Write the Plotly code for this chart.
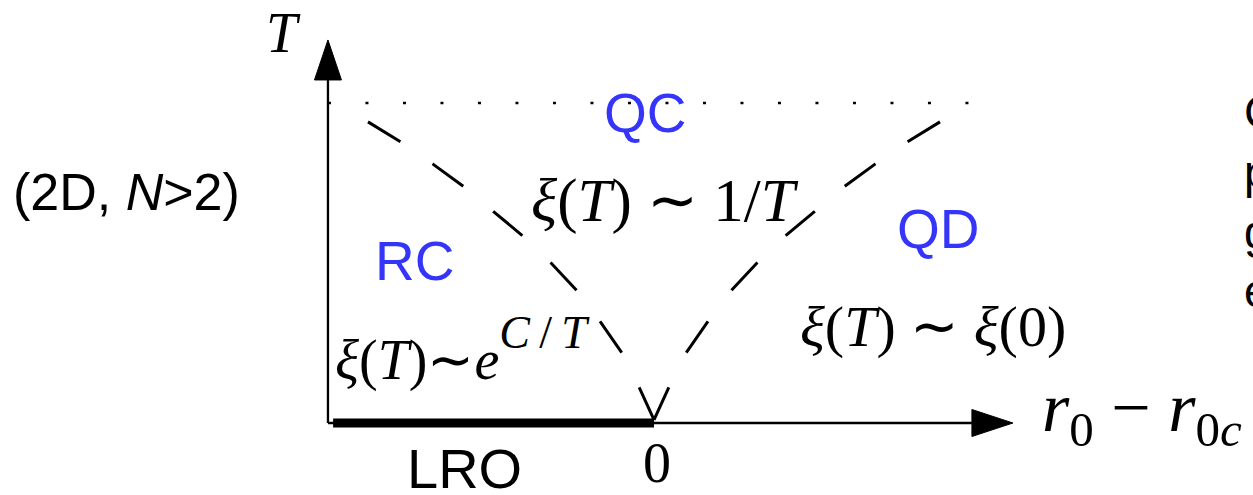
import plotly.graph_objects as go

# ---------------- data (units: r0 - r0c horizontally, T vertically) ----------------
# crossover line, right branch (left branch is its mirror image)
cross_r = [1.0, 0.885, 0.773, 0.664, 0.559, 0.458, 0.360, 0.269, 0.185, 0.112, 0.049, 0.0]
cross_T = [0.941, 0.878, 0.809, 0.738, 0.659, 0.584, 0.500, 0.413, 0.313, 0.219, 0.106, 0.01]

r_axis = [-1.14, 1.255]      # horizontal axis extent (tip of arrow at right)
T_axis = [0.0, 1.197]        # vertical axis extent (tip of arrow at top)
T_qc = 1.0                   # dotted upper line
r_qc_end = 1.122
lro_range = [-1.122, 0.0]    # long-range-order segment at T = 0

region_labels = ["QC", "RC", "QD"]
region_r = [-0.028, -0.836, 0.993]
region_T = [0.969, 0.506, 0.606]

BLUE = "#3535FA"
SERIF = "Liberation Serif, Times New Roman, serif"
SANS = "Liberation Sans, Arial, sans-serif"
XI = "<i>ξ</i>"
SIM = "∼"

fig = go.Figure()

# dotted line
fig.add_trace(go.Scatter(x=[r_axis[0], r_qc_end], y=[T_qc, T_qc], mode="lines",
                         line=dict(color="black", width=2.5, dash="3px,34.5px"),
                         hoverinfo="skip", showlegend=False))

# crossover dashed lines
fig.add_trace(go.Scatter(x=[-v for v in cross_r], y=cross_T, mode="lines",
                         line=dict(color="black", width=3, dash="38px,39px"),
                         hoverinfo="skip", showlegend=False))
fig.add_trace(go.Scatter(x=cross_r, y=cross_T, mode="lines",
                         line=dict(color="black", width=3, dash="38px,39px"),
                         hoverinfo="skip", showlegend=False))

# axes
ah_len_r, ah_half_T = 0.1434, 0.0422
ah_len_T, ah_half_r = 0.125, 0.0472
fig.add_trace(go.Scatter(x=[r_axis[0], r_axis[1] - ah_len_r], y=[0, 0], mode="lines",
                         line=dict(color="black", width=2.3), hoverinfo="skip", showlegend=False))
fig.add_trace(go.Scatter(x=[r_axis[0], r_axis[0]], y=[T_axis[0], T_axis[1] - ah_len_T], mode="lines",
                         line=dict(color="black", width=2.3), hoverinfo="skip", showlegend=False))
fig.add_trace(go.Scatter(x=[r_axis[1], r_axis[1] - ah_len_r, r_axis[1] - ah_len_r, r_axis[1]],
                         y=[0, ah_half_T, -ah_half_T, 0], mode="lines", fill="toself",
                         fillcolor="black", line=dict(color="black", width=1),
                         hoverinfo="skip", showlegend=False))
fig.add_trace(go.Scatter(x=[r_axis[0], r_axis[0] - ah_half_r, r_axis[0] + ah_half_r, r_axis[0]],
                         y=[T_axis[1], T_axis[1] - ah_len_T, T_axis[1] - ah_len_T, T_axis[1]],
                         mode="lines", fill="toself", fillcolor="black",
                         line=dict(color="black", width=1), hoverinfo="skip", showlegend=False))

# LRO thick segment
fig.add_trace(go.Scatter(x=lro_range, y=[0, 0], mode="lines",
                         line=dict(color="black", width=9), hoverinfo="skip", showlegend=False))

ann = []
for lab, rr, tt in zip(region_labels, region_r, region_T):
    ann.append(dict(x=rr, y=tt, text=lab, font=dict(family=SANS, size=55, color=BLUE)))

ann += [
    dict(x=-1.297, y=1.219, text="<i>T</i>", font=dict(family=SERIF, size=56)),
    dict(x=-1.843, y=0.722, text="(2D, <i>N</i>>2)", font=dict(family=SANS, size=52)),
    dict(x=0.038, y=0.694, text=f"{XI}(<i>T</i>) {SIM} 1/<i>T</i>", font=dict(family=SERIF, size=61)),
    dict(x=-1.122, y=0.231, xanchor="left",
         text=(f"<span style='font-size:56px'>{XI}(<i>T</i>){SIM}<i>e</i></span>"
               "<sup><span style='font-size:46px'><i>C</i>\u2009/\u2009<i>T</i></span></sup>"),
         font=dict(family=SERIF, size=74)),
    dict(x=0.976, y=0.303, text=f"{XI}(<i>T</i>) {SIM} {XI}(0)", font=dict(family=SERIF, size=58)),
    dict(x=-0.661, y=-0.143, text="LRO", font=dict(family=SANS, size=56)),
    dict(x=0.0105, y=-0.125, text="0", font=dict(family=SERIF, size=56)),
    dict(x=1.35, y=0.03, xanchor="left",
         text="<i>r</i><sub>0</sub> − <i>r</i><sub>0<i>c</i></sub>", font=dict(family=SERIF, size=70)),
    dict(x=2.056, y=1.06, xanchor="left", yanchor="top", align="left",
         text="Crossover<br>phase<br>governed<br>effects", font=dict(family=SANS, size=46)),
]
for a in ann:
    a.setdefault("xanchor", "center")
    a.setdefault("yanchor", "middle")
    a["showarrow"] = False
    a["xref"] = "x"
    a["yref"] = "y"
    a["font"].setdefault("color", "black")

fig.update_layout(
    width=1253, height=495,
    margin=dict(l=0, r=0, t=0, b=0),
    paper_bgcolor="white", plot_bgcolor="white",
    xaxis=dict(range=[-654 / 286, (1253 - 654) / 286], visible=False, fixedrange=True),
    yaxis=dict(range=[(423 - 495) / 320, 423 / 320], visible=False, fixedrange=True),
    annotations=ann,
    showlegend=False,
)

fig.write_html("out.html", config={"displayModeBar": False})
